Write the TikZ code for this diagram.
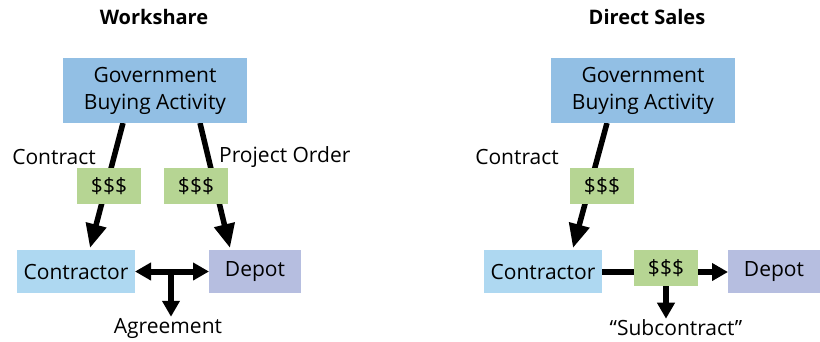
\documentclass[tikz,border=0pt]{standalone}
\usepackage{fontspec}
\setmainfont{Open Sans}
\usetikzlibrary{arrows.meta,calc,backgrounds}
\definecolor{govc}{HTML}{92BFE4}
\definecolor{moneyc}{HTML}{B6D593}
\definecolor{conc}{HTML}{AED8F1}
\definecolor{depc}{HTML}{B6BEE0}
\tikzset{
  box/.style={inner sep=0pt,outer sep=0pt,align=center,font=\fontsize{21}{27}\selectfont},
  lbl/.style={inner sep=0pt,font=\fontsize{21}{24}\selectfont},
  ttl/.style={inner sep=0pt,font=\bfseries\fontsize{20}{24}\selectfont},
  diag/.style={line width=5.5pt,-{Triangle[length=24pt,width=20pt]}},
  harr/.style={line width=6pt,-{Triangle[length=16pt,width=17pt]}},
  hdbl/.style={line width=6pt,{Triangle[length=16pt,width=17pt]}-{Triangle[length=16pt,width=17pt]}},
  hline/.style={line width=6pt},
}
\begin{document}
\begin{tikzpicture}[x=1pt,y=-1pt]
\useasboundingbox (0,0) rectangle (820,341);
% ---- Workshare ----
\node[ttl] (t1) at (154,17) {Workshare};
\node[box,fill=govc,minimum width=184pt,minimum height=65pt] (gov) at (155,90.5) {Government\\Buying Activity};
\node[box,fill=moneyc,minimum width=64pt,minimum height=36pt] (m1) at (109,186) {\$\$\$};
\node[box,fill=moneyc,minimum width=64pt,minimum height=36pt] (m2) at (196,186) {\$\$\$};
\node[box,fill=conc,minimum width=118pt,minimum height=43pt] (con) at (76,271.5) {Contractor};
\node[box,fill=depc,minimum width=92pt,minimum height=43pt] (dep) at (255,271.5) {Depot};
\node[lbl] (lc) at (54,157) {Contract};
\node[lbl,anchor=west] (lp) at (219,157) {Project Order};
\node[lbl] (la) at (168,328) {Agreement};
\coordinate (j1) at (171,272);
\begin{scope}[on background layer]
\draw[diag] ($(gov.south west)+(60,0)$) -- ($(con.north west)+(73,-2)$);
\draw[diag] ($(gov.south west)+(137,0)$) -- ($(dep.north west)+(21,-2)$);
\end{scope}
\draw[hdbl] (con.east) -- (dep.west);
\draw[harr] (j1) -- ($(la.north)+(3,-1)$);
% ---- Direct Sales ----
\node[ttl] (t2) at (647,17) {Direct Sales};
\node[box,fill=govc,minimum width=184pt,minimum height=65pt] (gov2) at (643,90.5) {Government\\Buying Activity};
\node[box,fill=moneyc,minimum width=64pt,minimum height=36pt] (m3) at (602,186) {\$\$\$};
\node[box,fill=conc,minimum width=118pt,minimum height=43pt] (con2) at (543,271.5) {Contractor};
\node[box,fill=moneyc,minimum width=64pt,minimum height=36pt] (m4) at (666,268) {\$\$\$};
\node[box,fill=depc,minimum width=92pt,minimum height=43pt] (dep2) at (774,271.5) {Depot};
\node[lbl] (lc2) at (517,157) {Contract};
\node[lbl] (ls) at (676,328) {“Subcontract”};
\begin{scope}[on background layer]
\draw[diag] ($(gov2.south west)+(56,0)$) -- ($(con2.north west)+(89,-2)$);
\end{scope}
\draw[hline] (con2.east |- 0,272) -- (m4.west |- 0,272);
\draw[harr] (m4.east |- 0,272) -- (dep2.west |- 0,272);
\draw[harr] (m4.south) -- ($(ls.north)+(-10,-1)$);
\end{tikzpicture}
\end{document}
